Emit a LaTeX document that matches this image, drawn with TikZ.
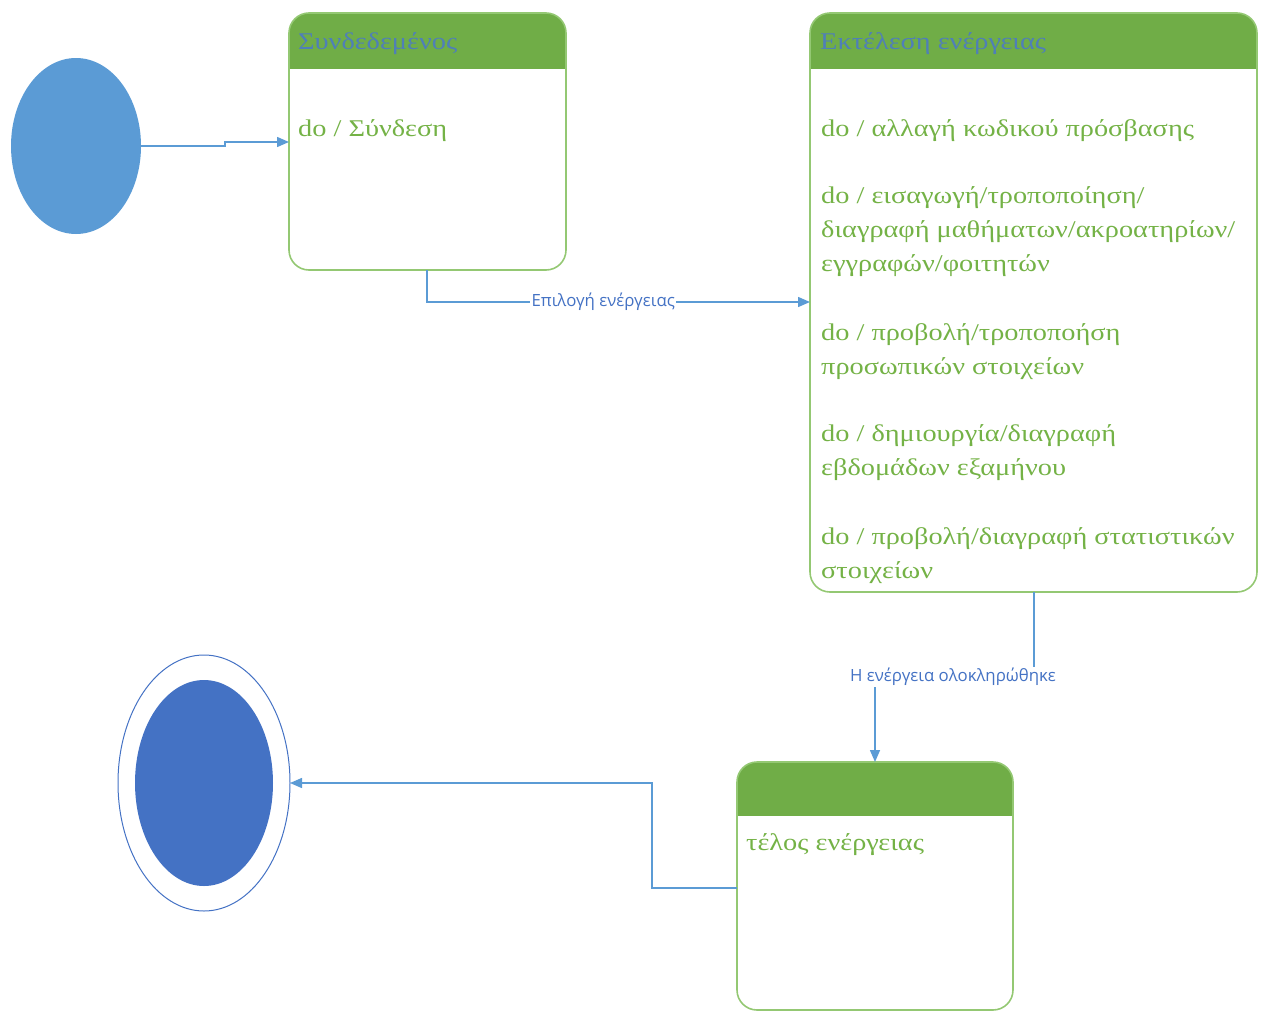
\documentclass[tikz,border=0pt]{standalone}
\usepackage{fontspec}
\setmainfont{Liberation Serif}[FakeStretch=1.18]
\newfontfamily\labelfont{Open Sans}
\usetikzlibrary{arrows.meta,shapes.geometric}
\definecolor{initblue}{HTML}{5B9BD5}
\definecolor{finblue}{HTML}{4472C4}
\definecolor{hdrgreen}{HTML}{70AD47}
\definecolor{edgegreen}{HTML}{94C873}
\definecolor{txtgreen}{HTML}{74B246}
\definecolor{hdrtext}{HTML}{4F7FB8}
\definecolor{linkblue}{HTML}{5B9BD5}
\definecolor{lbltext}{HTML}{4472C4}
\begin{document}
\begin{tikzpicture}[x=1pt,y=-1pt,
  statebox/.style={draw=edgegreen, line width=1.6pt, rounded corners=20pt,
    inner sep=0pt, outer sep=0pt, anchor=north west},
  header/.style={fill=hdrgreen, rounded corners=20pt},
  hdrlabel/.style={anchor=base west, inner sep=0pt, text=hdrtext,
    font=\fontsize{24}{30}\selectfont},
  body/.style={anchor=base west, inner sep=0pt, text=txtgreen,
    font=\fontsize{24}{30}\selectfont},
  link/.style={draw=linkblue, line width=1.5pt},
  tip/.style={-{Triangle[length=12pt,width=10pt]}},
  lbl/.style={fill=white, inner sep=1.5pt, text=lbltext,
    font=\labelfont\fontsize{16.8}{19}\selectfont}]
\useasboundingbox (0,0) rectangle (1264,1012);

% pseudo-states
\node[ellipse, fill=initblue, minimum width=130pt, minimum height=176pt,
  inner sep=0pt, outer sep=0pt] (init) at (76,146) {};
\node[ellipse, draw=finblue, line width=1pt, minimum width=172pt,
  minimum height=256pt, inner sep=0pt, outer sep=0pt] (fin) at (204,783) {};
\node[ellipse, fill=finblue, minimum width=138pt, minimum height=206pt,
  inner sep=0pt] (fincore) at (204,783) {};

% state: Συνδεδεμένος
\begin{scope}
  \clip (289,13) rectangle (566,68);
  \fill[header] (289,13) rectangle (566,270);
\end{scope}
\node[statebox, minimum width=277pt, minimum height=257pt] (s1) at (289,13) {};
\node[hdrlabel] (s1h) at (298,49) {Συνδεδεμένος};
\node[body] (s1b) at (298,136) {do / Σύνδεση};

% state: Εκτέλεση ενέργειας
\begin{scope}
  \clip (810,13) rectangle (1257,68);
  \fill[header] (810,13) rectangle (1257,592);
\end{scope}
\node[statebox, minimum width=447pt, minimum height=579pt] (s2) at (810,13) {};
\node[hdrlabel] (s2h) at (820,49) {Εκτέλεση ενέργειας};
\node[body] (b1) at (821,136) {do / αλλαγή κωδικού πρόσβασης};
\node[body] (b2) at (821,203) {do / εισαγωγή/τροποποίηση/};
\node[body] (b3) at (821,237) {διαγραφή μαθήματων/ακροατηρίων/};
\node[body] (b4) at (821,271) {εγγραφών/φοιτητών};
\node[body] (b5) at (821,340) {do / προβολή/τροποποήση};
\node[body] (b6) at (821,374) {προσωπικών στοιχείων};
\node[body] (b7) at (821,441) {do / δημιουργία/διαγραφή};
\node[body] (b8) at (821,475) {εβδομάδων εξαμήνου};
\node[body] (b9) at (821,544) {do / προβολή/διαγραφή στατιστικών};
\node[body] (b10) at (821,578) {στοιχείων};

% state: τέλος ενέργειας
\begin{scope}
  \clip (737,762) rectangle (1013,815);
  \fill[header] (737,762) rectangle (1013,1010);
\end{scope}
\node[statebox, minimum width=276pt, minimum height=248pt] (s3) at (737,762) {};
\node[body] (s3b) at (746,850) {τέλος ενέργειας};

% transitions
\draw[link, tip] (init.east) -- (225,146) -- (225,142) -- (s1.west |- 0,142);
\draw[link, tip] (427,270) -- (427,302) -- (s2.west |- 0,302)
  node[lbl, pos=0.46] (l1) {Επιλογή ενέργειας};
\draw[link, tip] (s2.south -| 1034,0) -- (1034,677) -- (875,677) -- (s3.north -| 875,0)
  node[lbl, at={(953,677)}] (l2) {Η ενέργεια ολοκληρώθηκε};
\draw[link, tip] (s3.west |- 0,888) -- (652,888) -- (652,783) -- (fin.east);
\end{tikzpicture}
\end{document}
